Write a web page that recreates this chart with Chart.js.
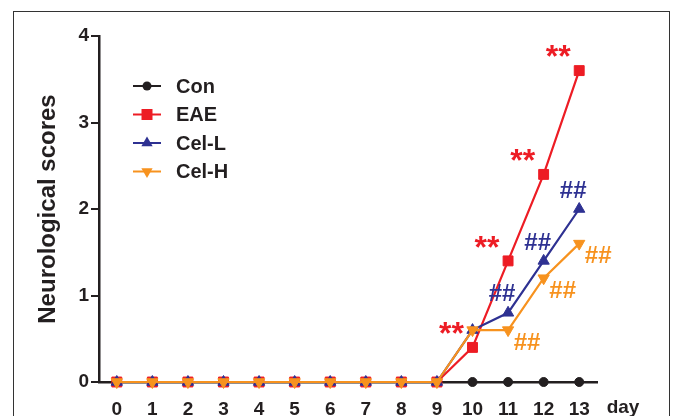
<html>
<head>
<style>
body { margin: 0; background: #fff; }
div.frame {
    position: absolute;
    left: 13px;
    top: 11px;
    width: 655px;
    height: 430px;
    border: 1.5px solid #333;
}
div.chart-box {
    position: absolute;
    left: 0;
    top: 0;
    width: 673px;
    height: 416px;
}
</style>

<script src="https://cdn.jsdelivr.net/npm/chart.js"></script>

<script type="application/javascript">
// values
const days = ['0', '1', '2', '3', '4', '5', '6', '7', '8', '9', '10', '11', '12', '13'];
const conScores  = [0, 0, 0, 0, 0, 0, 0, 0, 0, 0, 0, 0, 0, 0];
const eaeScores  = [0, 0, 0, 0, 0, 0, 0, 0, 0, 0, 0.4, 1.4, 2.4, 3.6];
const celLScores = [0, 0, 0, 0, 0, 0, 0, 0, 0, 0, 0.6, 0.8, 1.4, 2.0];
const celHScores = [0, 0, 0, 0, 0, 0, 0, 0, 0, 0, 0.6, 0.6, 1.2, 1.6];
const yTicks = [0, 1, 2, 3, 4];

// significance marks per day
const eaeMarks  = ['', '', '', '', '', '', '', '', '', '', '**', '**', '**', '**'];
const celLMarks = ['', '', '', '', '', '', '', '', '', '', '', '##', '##', '##'];
const celHMarks = ['', '', '', '', '', '', '', '', '', '', '', '##', '##', '##'];

const FONT = "'Liberation Sans', Arial, sans-serif";
const BLACK = '#231f20';
const RED = '#ed1c24';
const BLUE = '#2e3192';
const ORANGE = '#f7921e';

function drawMarker(ctx, style, x, y, r, color) {
    ctx.save();
    ctx.fillStyle = color;
    ctx.beginPath();
    if (style == 'circle') {
        ctx.arc(x, y, r, 0, Math.PI * 2);
    } else if (style == 'rect') {
        ctx.rect(x - r, y - r, 2 * r, 2 * r);
    } else if (style == 'up') {
        ctx.moveTo(x, y - r);
        ctx.lineTo(x + r * 0.87, y + r / 2);
        ctx.lineTo(x - r * 0.87, y + r / 2);
    } else {
        ctx.moveTo(x, y + r);
        ctx.lineTo(x + r * 0.87, y - r / 2);
        ctx.lineTo(x - r * 0.87, y - r / 2);
    }
    ctx.closePath();
    ctx.fill();
    ctx.restore();
}

const legendPlugin = {
    id: 'insideLegend',
    afterDraw(chart) {
        const ctx = chart.ctx;
        const items = [
            {text: 'Con', color: BLACK, style: 'circle', r: 4.5},
            {text: 'EAE', color: RED, style: 'rect', r: 5.5},
            {text: 'Cel-L', color: BLUE, style: 'up', r: 6.5},
            {text: 'Cel-H', color: ORANGE, style: 'down', r: 6.5}
        ];
        ctx.save();
        ctx.font = 'bold 20px ' + FONT;
        ctx.textBaseline = 'middle';
        for (let i in items) {
            const it = items[i];
            const y = 86 + i * 28.5;
            ctx.strokeStyle = it.color;
            ctx.lineWidth = 2;
            ctx.beginPath();
            ctx.moveTo(133, y);
            ctx.lineTo(161, y);
            ctx.stroke();
            drawMarker(ctx, it.style, 147, y, it.r, it.color);
            ctx.fillStyle = BLACK;
            ctx.fillText(it.text, 176, y + 1);
        }
        // x axis unit
        ctx.font = 'bold 19px ' + FONT;
        ctx.textAlign = 'center';
        ctx.fillText('day', 623, 408);
        ctx.restore();
    }
};

const marksPlugin = {
    id: 'sigMarks',
    afterDatasetsDraw(chart) {
        const ctx = chart.ctx;
        const sets = [
            {index: 1, marks: eaeMarks, color: RED, font: 'bold 32px ', dx: -21, dy: -12},
            {index: 2, marks: celLMarks, color: BLUE, font: 'bold 24px ', dx: -6, dy: -18},
            {index: 3, marks: celHMarks, color: ORANGE, font: 'bold 24px ', dx: 19, dy: 13}
        ];
        ctx.save();
        ctx.textAlign = 'center';
        ctx.textBaseline = 'middle';
        for (let s of sets) {
            const meta = chart.getDatasetMeta(s.index);
            ctx.fillStyle = s.color;
            ctx.font = s.font + FONT;
            for (let i = 0; i < s.marks.length; i++) {
                if (!s.marks[i]) continue;
                const pt = meta.data[i];
                ctx.fillText(s.marks[i], pt.x + s.dx, pt.y + s.dy);
            }
        }
        ctx.restore();
    }
};

function makeSet(label, data, color, style, radius, rotation, order) {
    return {
        label: label,
        data: data,
        borderColor: color,
        backgroundColor: color,
        pointBackgroundColor: color,
        pointBorderColor: color,
        borderWidth: 2.2,
        pointStyle: style,
        pointRadius: radius,
        pointBorderWidth: 1,
        pointRotation: rotation,
        tension: 0,
        clip: false,
        order: order
    };
}
</script>
</head>
<body>
    <div class="frame"></div>
    <div class="chart-box">
        <canvas id="scoreChart" width="673" height="416"></canvas>
    </div>
<script>
const config = {
    type: 'line',
    data: {
        labels: days,
        datasets: [
            makeSet('Con', conScores, BLACK, 'circle', 4.5, 0, 4),
            makeSet('EAE', eaeScores, RED, 'rect', 7, 0, 3),
            makeSet('Cel-L', celLScores, BLUE, 'triangle', 6.5, 0, 2),
            makeSet('Cel-H', celHScores, ORANGE, 'triangle', 6.5, 180, 1)
        ]
    },
    options: {
        responsive: false,
        animation: false,
        layout: { padding: { top: 36, right: 76, left: 0, bottom: 0 } },
        plugins: {
            legend: { display: false },
            tooltip: { enabled: false }
        },
        scales: {
            x: {
                type: 'category',
                offset: true,
                grid: { display: false, drawTicks: false },
                border: { display: true, color: BLACK, width: 2.5 },
                ticks: {
                    color: BLACK,
                    padding: 16,
                    maxRotation: 0,
                    autoSkip: false,
                    font: { family: FONT, size: 19, weight: 'bold' }
                },
                afterFit: (scale) => { scale.height = 34; }
            },
            y: {
                min: 0,
                max: 4,
                afterBuildTicks: (axis) => { axis.ticks = yTicks.map(v => ({value: v})); },
                grid: {
                    display: true,
                    drawOnChartArea: false,
                    drawTicks: true,
                    tickLength: 8,
                    lineWidth: 2,
                    color: BLACK
                },
                border: { display: true, color: BLACK, width: 2.5 },
                ticks: {
                    color: BLACK,
                    padding: 2,
                    font: { family: FONT, size: 19, weight: 'bold' }
                },
                title: {
                    display: true,
                    text: 'Neurological scores',
                    color: BLACK,
                    padding: { top: 34, bottom: 0 },
                    font: { family: FONT, size: 24, weight: 'bold' }
                },
                afterFit: (scale) => { scale.width = 99; }
            }
        }
    },
    plugins: [legendPlugin, marksPlugin]
};

const scoreChart = new Chart(document.getElementById('scoreChart'), config);
</script>
</body>
</html>
